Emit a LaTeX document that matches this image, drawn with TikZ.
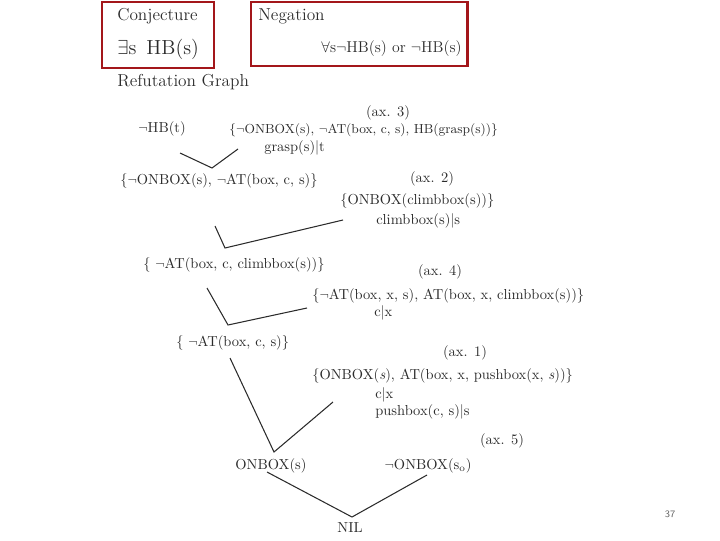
\documentclass[tikz,border=0pt]{standalone}
\usepackage{xcolor}
\usetikzlibrary{shapes,arrows.meta,calc}
\definecolor{boxred}{HTML}{A3161A}
\definecolor{ink}{HTML}{2B2B2B}
\tikzset{
  txt/.style={inner sep=0pt, text=ink, font=\fontsize{10.3}{12}\selectfont},
  lft/.style={txt, anchor=west},
  head/.style={lft, font=\fontsize{12.3}{14}\selectfont},
  frame/.style={rectangle, draw=boxred, line width=2.1pt},
  link/.style={draw=ink, line width=0.75pt}
}
\begin{document}
\begin{tikzpicture}[x=0.025cm, y=-0.025cm]
      \useasboundingbox (0,0) rectangle (720,540);
      \node [frame, minimum width=2.8cm, minimum height=1.65cm] (conjbox) at (158, 35) {};
      \node [frame, minimum width=5.4cm, minimum height=1.6cm] (negbox) at (359, 34) {};
      \node [head] (conj) at (117, 16) {Conjecture};
      \node [head, font=\fontsize{14.5}{16}\selectfont] (conjf) at (117, 49) {$\exists$s\, HB(s)};
      \node [head] (neg) at (258, 16) {Negation};
      \node [txt, anchor=east, font=\fontsize{11.2}{13}\selectfont] (negf) at (462, 49) {$\forall$s$\neg$HB(s) or $\neg$HB(s)};
      \node [head] (title) at (117, 82) {Refutation Graph};
      \node [txt] (ax3) at (388, 113) {(ax. 3)};
      \node [txt] (hbt) at (162, 129) {$\neg$HB(t)};
      \node [lft, font=\fontsize{9.3}{11}\selectfont] (clause3) at (229, 130) {\{$\neg$ONBOX(s), $\neg$AT(box, c, s), HB(grasp(s))\}};
      \node [lft] (subst3) at (264, 148) {grasp(s)\textbar t};
      \node [lft] (res1) at (120, 181) {\{$\neg$ONBOX(s), $\neg$AT(box, c, s)\}};
      \node [txt] (ax2) at (432, 179) {(ax. 2)};
      \node [lft] (clause2) at (340, 201) {\{ONBOX(climbbox(s))\}};
      \node [lft] (subst2) at (376, 221) {climbbox(s)\textbar s};
      \node [lft] (res2) at (143, 265) {\{ $\neg$AT(box, c, climbbox(s))\}};
      \node [txt] (ax4) at (440, 272) {(ax. 4)};
      \node [lft] (clause4) at (312, 296) {\{$\neg$AT(box, x, s), AT(box, x, climbbox(s))\}};
      \node [lft] (subst4) at (374, 313) {c\textbar x};
      \node [lft] (res3) at (176, 343) {\{ $\neg$AT(box, c, s)\}};
      \node [txt] (ax1) at (465, 353) {(ax. 1)};
      \node [lft] (clause1) at (312, 376) {\{ONBOX(\textit{s}), AT(box, x, pushbox(x, \textit{s}))\}};
      \node [lft] (subst1a) at (375, 395) {c\textbar x};
      \node [lft] (subst1b) at (375, 412) {pushbox(c, s)\textbar s};
      \node [txt] (res4) at (271, 466) {ONBOX(s)};
      \node [txt] (ax5) at (502, 441) {(ax. 5)};
      \node [txt] (clause5) at (428, 466) {$\neg$ONBOX(s$_\mathrm{o}$)};
      \node [txt] (nil) at (350, 528) {NIL};
      \node [inner sep=0pt, text=black!60, font=\sffamily\fontsize{7}{8}\selectfont] (page) at (670, 514) {37};
      \coordinate (a1) at (180, 153);
      \coordinate (v1) at (212, 168);
      \coordinate (b1) at (238, 149);
      \coordinate (a2) at (215, 226);
      \coordinate (v2) at (225, 248);
      \coordinate (b2) at (343, 220);
      \coordinate (a3) at (207, 288);
      \coordinate (v3) at (228, 325);
      \coordinate (b3) at (307, 308);
      \coordinate (a4) at (230, 358);
      \coordinate (v4) at (274, 452);
      \coordinate (b4) at (333, 402);
      \coordinate (a5) at (267, 472);
      \coordinate (v5) at (352, 517);
      \coordinate (b5) at (427, 475);
      \draw [link] (a1) -- (v1) -- (b1);
      \draw [link] (a2) -- (v2) -- (b2);
      \draw [link] (a3) -- (v3) -- (b3);
      \draw [link] (a4) -- (v4) -- (b4);
      \draw [link] (a5) -- (v5) -- (b5);
    \end{tikzpicture}
\end{document}
